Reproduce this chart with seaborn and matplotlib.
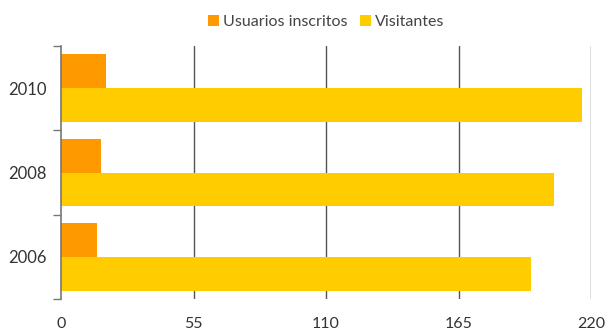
import matplotlib
matplotlib.use("Agg")
import matplotlib.pyplot as plt
import seaborn as sns
import pandas as pd

years = ["2010", "2008", "2006"]
usuarios = [18.7, 16.6, 14.8]
visitantes = [216.3, 204.5, 195.0]
series_names = ["Usuarios inscritos", "Visitantes"]
x_ticks = [0, 55, 110, 165, 220]
colors = ["#FF9900", "#FFCC00"]

df = pd.DataFrame({
    "year": years * 2,
    "value": usuarios + visitantes,
    "series": [series_names[0]] * len(years) + [series_names[1]] * len(years),
})

sns.set_theme(style="white")
plt.rcParams["font.family"] = ["Lato", "DejaVu Sans"]

fig = plt.figure(figsize=(6.07, 3.31), dpi=100)
ax = fig.add_axes([61 / 607, 1 - 299 / 331, 530 / 607, 253 / 331])

sns.barplot(data=df, y="year", x="value", hue="series", order=years,
            hue_order=series_names, palette=colors, orient="h",
            width=0.8, saturation=1, linewidth=0, ax=ax, legend=True)

ax.set_xlim(0, 220)
ax.set_ylim(2.5, -0.5)
ax.set_xticks(x_ticks)
ax.set_xticklabels([str(t) for t in x_ticks])
ax.set_xlabel("")
ax.set_ylabel("")

# vertical grid lines at each non-zero tick
for t in x_ticks[1:]:
    ax.axvline(t, color="#555555", lw=1, zorder=0)

# category boundary ticks on the left spine
ax.set_yticks([0, 1, 2])
ax.set_yticks([-0.5, 0.5, 1.5, 2.5], minor=True)
ax.tick_params(axis="y", which="major", length=0, pad=10, labelsize=12, labelcolor="#333333")
ax.tick_params(axis="y", which="minor", length=6, width=1, color="#777777", left=True)
ax.tick_params(axis="x", length=0, pad=13, labelsize=11.5, labelcolor="#333333")

for s in ["top", "right", "bottom"]:
    ax.spines[s].set_visible(False)
ax.spines["left"].set_color("#777777")
ax.spines["left"].set_linewidth(1.2)

leg = ax.get_legend()
handles = leg.legend_handles
leg.remove()
fig.legend(handles, series_names, loc="center", bbox_to_anchor=(326 / 607, 1 - 22 / 331),
           ncol=2, frameon=False, fontsize=11.5, handlelength=0.7, handleheight=0.7,
           handletextpad=0.25, columnspacing=0.8, labelcolor="#444444")

fig.savefig("out.png", dpi=100)
